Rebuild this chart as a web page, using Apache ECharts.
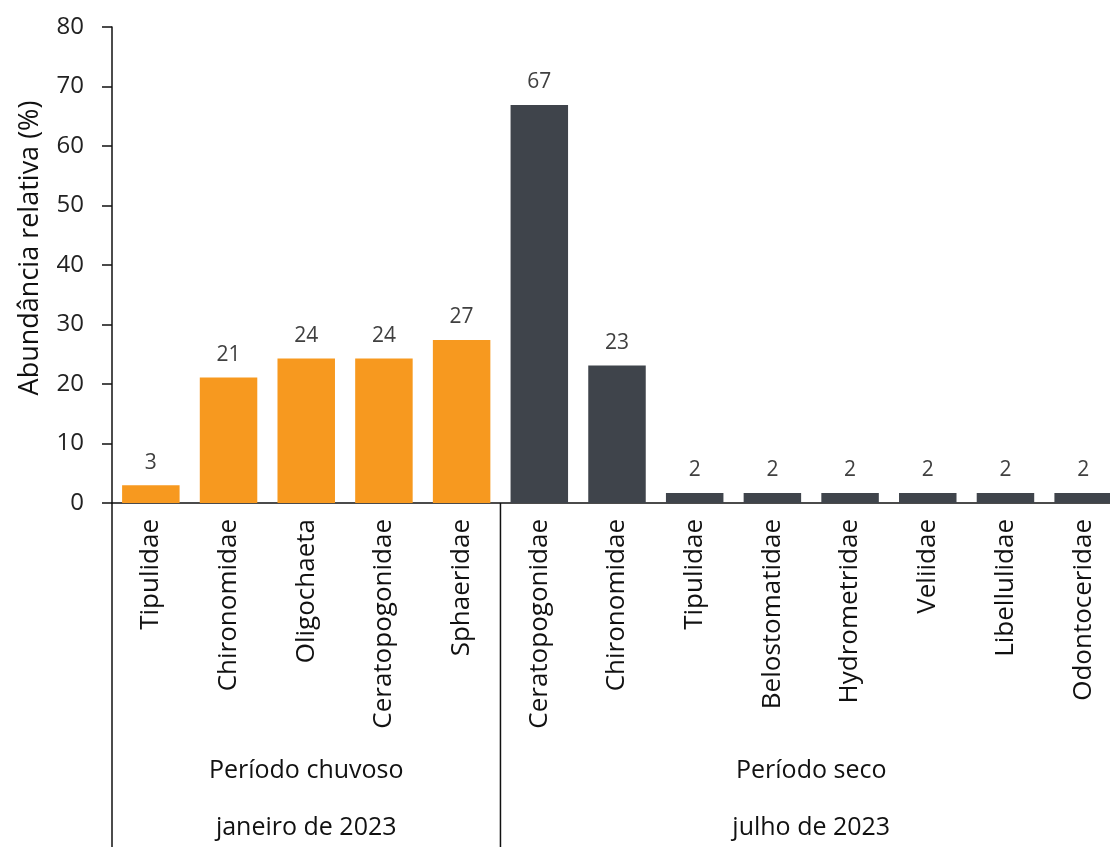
<!DOCTYPE html>
<html>
<head>
<meta charset="utf-8">
<script src="https://cdn.jsdelivr.net/npm/echarts@6/dist/echarts.min.js"></script>
<style>
html,body{margin:0;padding:0;background:#fff;overflow:hidden;width:1110px;height:847px;}
#chart{width:1122px;height:847px;}
</style>
</head>
<body>
<div id="chart"></div>
<script>
const categories = ['Tipulidae','Chironomidae','Oligochaeta','Ceratopogonidae','Sphaeridae',
  'Ceratopogonidae','Chironomidae','Tipulidae','Belostomatidae','Hydrometridae','Veliidae','Libellulidae','Odontoceridae'];
const values = [3.0, 21.1, 24.3, 24.3, 27.4, 66.9, 23.1, 1.7, 1.7, 1.7, 1.7, 1.7, 1.7];
const groupNames = ['Período chuvoso', 'Período seco'];
const groupDates = ['janeiro de 2023', 'julho de 2023'];
const groupSizes = [5, 8];
const groupColors = ['#F7991F', '#3F444B'];
const yTicks = [0, 10, 20, 30, 40, 50, 60, 70, 80];

const FONT = '"Open Sans", sans-serif';
const groupOf = [];
groupSizes.forEach((n, g) => { for (let i = 0; i < n; i++) groupOf.push(g); });

const chart = echarts.init(document.getElementById('chart'));
chart.setOption({
  animation: false,
  backgroundColor: '#fff',
  textStyle: { fontFamily: FONT },
  grid: { left: 112, right: 0, top: 27, bottom: 344, containLabel: false },
  xAxis: {
    type: 'category',
    data: categories,
    axisLine: { show: true, lineStyle: { color: '#111', width: 1.5 } },
    axisTick: { show: false },
    axisLabel: { rotate: 90, fontSize: 26, color: '#111', margin: 16, fontFamily: FONT, interval: 0 }
  },
  yAxis: {
    type: 'value',
    min: yTicks[0], max: yTicks[yTicks.length - 1], interval: yTicks[1] - yTicks[0],
    name: 'Abundância relativa (%)',
    nameLocation: 'middle',
    nameGap: 68,
    nameTextStyle: { fontSize: 27, color: '#111', fontFamily: FONT, padding: [0, 0, 0, 34] },
    axisLine: { show: true, lineStyle: { color: '#111', width: 1.5 } },
    axisTick: { show: true, length: 10, lineStyle: { color: '#111', width: 1.5 } },
    axisLabel: { fontSize: 24, color: '#222', margin: 28, fontFamily: FONT },
    splitLine: { show: false }
  },
  series: [{
    type: 'bar',
    barCategoryGap: '26%',
    data: values.map((v, i) => ({ value: v, itemStyle: { color: groupColors[groupOf[i]] } })),
    label: {
      show: true, position: 'top', distance: 12,
      fontSize: 21, color: '#404040', fontFamily: FONT,
      formatter: p => Math.round(p.value)
    }
  }]
});

const c0 = chart.convertToPixel({ xAxisIndex: 0 }, 0);
const c1 = chart.convertToPixel({ xAxisIndex: 0 }, 1);
const w = c1 - c0;
const y0 = chart.convertToPixel({ yAxisIndex: 0 }, 0);
const H = 847;
const graphics = [];
let start = 0;
const bounds = [c0 - w / 2];
groupSizes.forEach((n, g) => {
  const leftX = chart.convertToPixel({ xAxisIndex: 0 }, start) - w / 2;
  const rightX = chart.convertToPixel({ xAxisIndex: 0 }, start + n - 1) + w / 2;
  const cx = (leftX + rightX) / 2;
  graphics.push({ type: 'text', x: cx, y: y0 + 268, style: { text: groupNames[g], font: '25px ' + FONT, fill: '#111', textAlign: 'center', textVerticalAlign: 'middle' } });
  graphics.push({ type: 'text', x: cx, y: y0 + 325, style: { text: groupDates[g], font: '25px ' + FONT, fill: '#111', textAlign: 'center', textVerticalAlign: 'middle' } });
  if (g < groupSizes.length - 1) bounds.push(rightX);
  start += n;
});
bounds.forEach(x => {
  graphics.push({ type: 'line', shape: { x1: x, y1: y0, x2: x, y2: H }, style: { stroke: '#111', lineWidth: 1.5 } });
});
chart.setOption({ graphic: graphics });
</script>
</body>
</html>
